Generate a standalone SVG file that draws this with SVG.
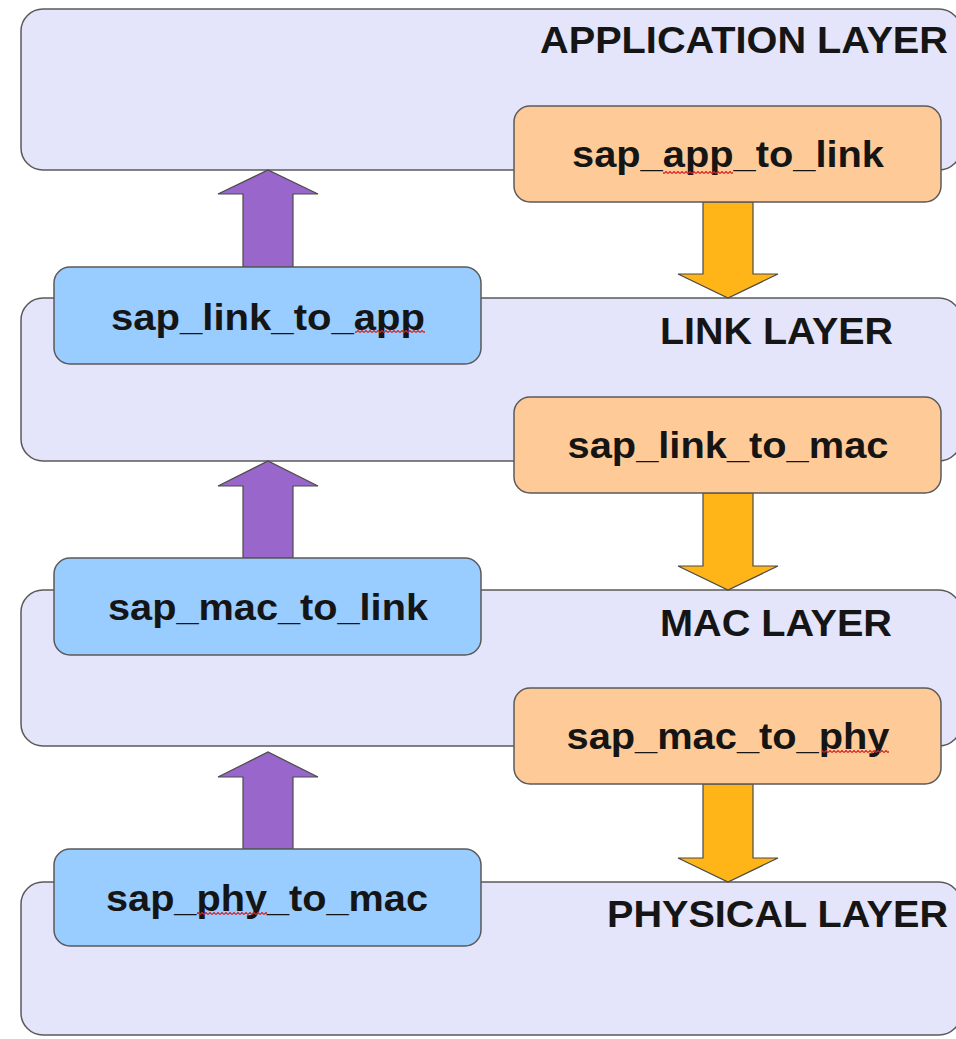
<svg xmlns="http://www.w3.org/2000/svg" width="956" height="1039" viewBox="0 0 956 1039">
  <style>
    .layer { fill: #e4e4fa; stroke: #5a5a5a; stroke-width: 1.5; }
    .down-sap { fill: #fecb98; stroke: #5a5a5a; stroke-width: 1.5; }
    .up-sap { fill: #99ccff; stroke: #5a5a5a; stroke-width: 1.5; }
    .up-arrow { fill: #9966cc; stroke: #4a4a4a; stroke-width: 1.2; }
    .down-arrow { fill: #ffb418; stroke: #4a4a4a; stroke-width: 1.2; }
    .title { font-family: "Liberation Sans", Arial, sans-serif; font-weight: bold; font-size: 36px; fill: #151515; }
    .label { font-family: "Liberation Sans", Arial, sans-serif; font-weight: bold; font-size: 37px; fill: #151515; text-anchor: middle; }
  </style>
  <defs>
    <pattern id="squiggle" width="4" height="3" patternUnits="userSpaceOnUse">
      <path d="M0,2.5 L2,0.5 L4,2.5" fill="none" stroke="#d62222" stroke-width="1.2"/>
    </pattern>
  </defs>

  <rect width="956" height="1039" fill="#ffffff"/>

  <!-- protocol layers -->
  <g id="application-layer">
    <rect class="layer" x="21" y="9" width="940" height="161" rx="22"/>
    <text class="title" x="540" y="53" textLength="408" lengthAdjust="spacingAndGlyphs">APPLICATION LAYER</text>
  </g>
  <g id="link-layer">
    <rect class="layer" x="21" y="298" width="940" height="163" rx="22"/>
    <text class="title" x="660" y="344" textLength="233" lengthAdjust="spacingAndGlyphs">LINK LAYER</text>
  </g>
  <g id="mac-layer">
    <rect class="layer" x="21" y="590" width="940" height="156" rx="22"/>
    <text class="title" x="660" y="636" textLength="232" lengthAdjust="spacingAndGlyphs">MAC LAYER</text>
  </g>
  <g id="physical-layer">
    <rect class="layer" x="21" y="882" width="940" height="153" rx="22"/>
    <text class="title" x="607" y="927" textLength="341" lengthAdjust="spacingAndGlyphs">PHYSICAL LAYER</text>
  </g>

  <!-- arrows between access points -->
  <g id="connectors">
    <path class="up-arrow" d="M243,267 L243,194 L218,194 L268,170 L318,194 L293,194 L293,267 Z"/>
    <path class="up-arrow" d="M243,558 L243,486 L218,486 L268,461 L318,486 L293,486 L293,558 Z"/>
    <path class="up-arrow" d="M243,849 L243,777 L218,777 L268,752 L318,777 L293,777 L293,849 Z"/>
    <path class="down-arrow" d="M703,202 L703,274 L678,274 L728,298 L778,274 L753,274 L753,202 Z"/>
    <path class="down-arrow" d="M703,493 L703,566 L678,566 L728,590 L778,566 L753,566 L753,493 Z"/>
    <path class="down-arrow" d="M703,784 L703,858 L678,858 L728,882 L778,858 L753,858 L753,784 Z"/>
  </g>

  <!-- downward service access points -->
  <g id="sap_app_to_link">
    <rect class="down-sap" x="514" y="106" width="427" height="96" rx="16"/>
    <text class="label" x="728" y="167" textLength="312" lengthAdjust="spacingAndGlyphs">sap_app_to_link</text>
    <rect x="663" y="171" width="70" height="3" fill="url(#squiggle)"/>
  </g>
  <g id="sap_link_to_mac">
    <rect class="down-sap" x="514" y="397" width="427" height="96" rx="16"/>
    <text class="label" x="728" y="458" textLength="321" lengthAdjust="spacingAndGlyphs">sap_link_to_mac</text>
  </g>
  <g id="sap_mac_to_phy">
    <rect class="down-sap" x="514" y="688" width="427" height="96" rx="16"/>
    <text class="label" x="728" y="749" textLength="323" lengthAdjust="spacingAndGlyphs">sap_mac_to_phy</text>
    <rect x="822" y="750" width="67" height="3" fill="url(#squiggle)"/>
  </g>

  <!-- upward service access points -->
  <g id="sap_link_to_app">
    <rect class="up-sap" x="54" y="267" width="427" height="97" rx="16"/>
    <text class="label" x="268" y="330" textLength="314" lengthAdjust="spacingAndGlyphs">sap_link_to_app</text>
    <rect x="355" y="330" width="70" height="3" fill="url(#squiggle)"/>
  </g>
  <g id="sap_mac_to_link">
    <rect class="up-sap" x="54" y="558" width="427" height="97" rx="16"/>
    <text class="label" x="268" y="620" textLength="320" lengthAdjust="spacingAndGlyphs">sap_mac_to_link</text>
  </g>
  <g id="sap_phy_to_mac">
    <rect class="up-sap" x="54" y="849" width="427" height="97" rx="16"/>
    <text class="label" x="267" y="911" textLength="322" lengthAdjust="spacingAndGlyphs">sap_phy_to_mac</text>
    <rect x="197" y="912" width="70" height="3" fill="url(#squiggle)"/>
  </g>
</svg>
